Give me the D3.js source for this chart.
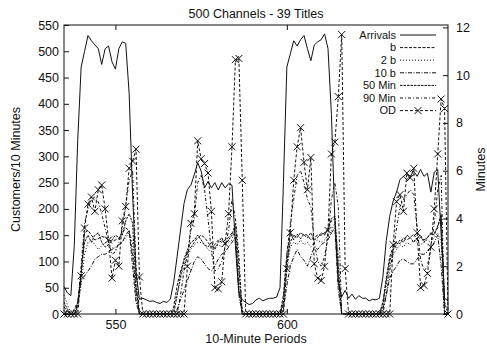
<!DOCTYPE html>
<html>
<head>
<meta charset="utf-8">
<script src="https://cdn.jsdelivr.net/npm/d3@7"></script>
<style>
  body { margin: 0; background: #fff; }
  text { font-family: "Liberation Sans", Arial, sans-serif; fill: #111; }
</style>
</head>
<body>
<div id="chart"></div>
<script>
// 10-minute periods shown on the x axis
const firstPeriod = 535, lastPeriod = 647;
const periods = d3.range(firstPeriod, lastPeriod + 1);

// Customers per 10 minutes (left axis)
const arrivals = [
  52, 40, 35, 130, 330, 470, 500, 530, 520, 512,
  505, 475, 505, 510, 480, 466, 505, 518, 515, 420,
  230, 80, 28, 30, 27, 24, 25, 22, 20, 24,
  22, 28, 60, 110, 160, 210, 237, 245, 265, 288,
  272, 240, 252, 240, 250, 236, 250, 240, 248, 245,
  130, 40, 27, 22, 18, 20, 27, 30, 25, 28,
  30, 30, 32, 50, 250, 470, 495, 520, 510, 522,
  530, 505, 482, 512, 518, 522, 533, 505, 380, 180,
  60, 33, 45, 30, 38, 28, 35, 30, 30, 25,
  28, 27, 30, 70, 140, 186, 215, 232, 256, 262,
  256, 262, 272, 262, 275, 262, 268, 232, 270, 275,
  150, 30, 25
];

// Minutes (right axis)
const b = [
  0.3, 0.1, 0, 0.2, 0.5, 1.6, 3.4, 3.5, 3.3, 3.1,
  3.15, 3.25, 3.2, 3.1, 3.05, 3.1, 3.15, 3.4, 3.6, 3.5,
  2.5, 1.0, 0, 0, 0, 0, 0, 0, 0, 0,
  0, 0, 0.3, 1.2, 1.8, 2.2, 2.6, 2.8, 3.0, 3.2,
  3.3, 3.2, 3.0, 2.8, 2.9, 3.1, 3.0, 3.1, 3.2, 3.4,
  3.3, 1.0, 0, 0, 0, 0, 0, 0, 0, 0,
  0, 0, 0, 0, 0.8, 2.5, 3.4, 3.1, 3.35, 3.15,
  3.35, 3.3, 3.1, 3.2, 3.3, 3.3, 3.4, 3.55, 3.9, 4.0,
  1.5, 0, 0, 0, 0, 0, 0, 0, 0, 0,
  0, 0, 0, 0.5, 1.5, 2.4, 2.8, 3.0, 2.95, 3.2,
  3.1, 3.2, 3.35, 3.1, 3.2, 3.1, 3.2, 3.35, 3.4, 3.6,
  4.2, 0, 0
];
const b2 = [
  0.8, 0.4, 0, 0, 0.3, 1.2, 2.5, 3.0, 3.1, 2.9,
  2.7, 2.85, 3.0, 2.9, 2.8, 2.7, 2.9, 3.0, 3.2, 3.4,
  3.0, 0.6, 0, 0, 0, 0, 0, 0, 0, 0,
  0, 0, 0.2, 0.8, 1.5, 2.0, 2.4, 2.7, 2.9, 3.0,
  3.0, 2.9, 2.7, 2.6, 2.8, 2.9, 2.8, 3.0, 3.0, 3.1,
  3.6, 1.5, 0, 0, 0, 0, 0, 0, 0, 0,
  0, 0, 0, 0, 0.4, 1.8, 2.8, 3.0, 2.9, 3.1,
  2.9, 3.0, 2.8, 3.0, 3.1, 3.0, 3.1, 3.3, 3.5, 3.8,
  2.5, 0, 0, 0, 0, 0, 0, 0, 0, 0,
  0, 0, 0, 0.3, 1.2, 2.0, 2.5, 2.7, 2.9, 2.8,
  3.0, 2.9, 3.1, 3.0, 2.9, 3.0, 3.1, 3.0, 3.2, 3.4,
  3.0, 0, 0
];
const b10 = [
  0, 0, 0, 0, 0.5, 1.4, 1.6, 1.8, 2.0, 2.3,
  2.4, 2.5, 2.5, 2.6, 2.7, 2.8, 2.9, 3.0, 3.3, 3.5,
  2.0, 0.5, 0, 0, 0, 0, 0, 0, 0, 0,
  0, 0, 0, 0.2, 0.6, 1.0, 1.4, 1.8, 2.2, 2.4,
  2.3, 2.1, 1.9, 1.8, 2.0, 2.3, 2.5, 2.6, 2.8, 3.0,
  3.2, 0.8, 0, 0, 0, 0, 0, 0, 0, 0,
  0, 0, 0, 0, 0.2, 1.2, 2.0, 2.4, 2.7, 2.4,
  2.25, 2.0, 2.4, 2.8, 2.7, 2.9, 3.0, 3.1, 3.4, 3.6,
  1.0, 0, 0, 0, 0, 0, 0, 0, 0, 0,
  0, 0, 0, 0.2, 0.8, 1.5, 1.8, 2.0, 2.25, 2.3,
  2.2, 2.1, 2.1, 2.3, 2.5, 2.5, 2.6, 2.8, 3.0, 3.3,
  2.0, 0, 0
];
const min50 = [
  0.5, 0.2, 0, 0, 0.3, 1.8, 3.0, 3.3, 3.0, 3.3,
  3.4, 3.0, 2.8, 2.9, 3.1, 3.3, 3.2, 3.3, 3.9, 4.2,
  3.8, 1.2, 0, 0, 0, 0, 0, 0, 0, 0,
  0, 0, 0, 0.8, 1.6, 2.3, 2.7, 3.0, 3.1, 3.3,
  3.1, 2.9, 2.8, 3.0, 2.7, 3.0, 3.2, 2.9, 3.1, 3.3,
  3.8, 2.0, 0, 0, 0, 0, 0, 0, 0, 0,
  0, 0, 0, 0, 0.5, 2.2, 3.0, 3.3, 3.2, 3.4,
  3.3, 3.2, 3.4, 3.1, 3.2, 3.4, 3.3, 3.6, 4.0, 4.1,
  2.0, 0, 0, 0, 0, 0, 0, 0, 0, 0,
  0, 0, 0, 0.4, 1.4, 2.2, 2.7, 2.9, 3.1, 3.0,
  3.3, 3.2, 3.0, 3.2, 3.3, 3.0, 3.2, 3.4, 3.3, 3.7,
  4.1, 0.5, 0
];
const min90 = [
  0, 0, 0, 0, 0.4, 2.0, 3.8, 4.4, 4.8, 4.9,
  4.7, 4.2, 3.6, 3.0, 2.5, 2.6, 3.0, 3.6, 4.5, 5.6,
  6.0, 2.0, 0, 0, 0, 0, 0, 0, 0, 0,
  0, 0, 0, 0, 0.8, 1.8, 2.5, 3.5, 4.0, 5.5,
  5.8, 5.2, 4.0, 2.6, 1.8, 1.9, 2.2, 2.8, 3.5, 4.8,
  4.0, 2.5, 0, 0, 0, 0, 0, 0, 0, 0,
  0, 0, 0, 0, 0.5, 2.5, 3.8, 4.8, 5.8, 6.0,
  5.5, 4.8, 4.5, 3.0, 2.2, 2.0, 2.4, 3.2, 4.8, 5.5,
  4.5, 0, 0, 0, 0, 0, 0, 0, 0, 0,
  0, 0, 0, 0, 0.8, 1.8, 2.6, 3.6, 4.5, 4.8,
  5.0, 5.2, 5.0, 3.6, 2.3, 1.8, 2.0, 2.8, 3.8, 5.2,
  5.8, 0, 0
];
const od = [
  0, 0, 0, 0, 0, 1.6, 3.6, 4.6, 4.9, 4.3,
  5.2, 5.4, 4.4, 3.1, 1.5, 2.25, 2.0, 3.9, 4.5, 6.1,
  6.4, 6.9, 1.55, 0, 0, 0, 0, 0, 0, 0,
  0, 0, 0, 0, 0, 0, 2.0, 3.8, 4.2, 7.25,
  6.5, 6.3, 5.9, 4.3, 1.1, 1.05, 1.35, 2.95, 4.2, 7.0,
  10.65, 10.7, 5.6, 0, 0, 0, 0, 0, 0, 0,
  0, 0, 0, 0, 0, 1.9, 3.4, 5.6, 7.0, 7.8,
  6.35, 5.2, 6.55, 2.1, 1.5, 1.4, 2.0, 3.5, 6.7, 7.2,
  9.1, 11.7, 1.9, 0, 0, 0, 0, 0, 0, 0,
  0, 0, 0, 0, 0, 0, 2.9, 4.7, 5.0, 4.3,
  5.9, 5.7, 6.1, 3.4, 1.1, 1.2, 1.7, 2.8, 4.4, 6.7,
  9.0, 8.6, 0
];

const xTicks = [550, 600];
const leftTicks = d3.range(0, 551, 50);
const rightTicks = [0, 2, 4, 6, 8, 10, 12];

const width = 487, height = 348;
const margin = {top: 25, right: 39, bottom: 34, left: 64};
const plotW = width - margin.left - margin.right;
const plotH = height - margin.top - margin.bottom;

const svg = d3.select("#chart")
    .append("svg")
    .attr("width", width)
    .attr("height", height)
    .style("font-size", "12.5px");

const g = svg.append("g")
    .attr("transform", `translate(${margin.left},${margin.top})`);

const x = d3.scaleLinear().domain([firstPeriod, lastPeriod]).range([0, plotW]);
const yL = d3.scaleLinear().domain([0, 550]).range([plotH, 0]);
const yR = d3.scaleLinear().domain([0, 12.1]).range([plotH, 0]);

g.append("clipPath").attr("id", "clip")
  .append("rect").attr("x", -1).attr("y", -1).attr("width", plotW + 2).attr("height", plotH + 2);

// axes (ticks point inwards, gnuplot style)
const styleAxis = sel => {
  sel.select(".domain").remove();
  sel.selectAll("line").attr("stroke", "#111");
  sel.selectAll("text").style("font-size", "12.5px").attr("fill", "#111");
};
g.append("g").call(d3.axisLeft(yL).tickValues(leftTicks).tickSize(-5).tickPadding(5)).call(styleAxis);
g.append("g").attr("transform", `translate(${plotW},0)`)
  .call(d3.axisRight(yR).tickValues(rightTicks).tickSize(-5).tickPadding(8)).call(styleAxis);
g.append("g").attr("transform", `translate(0,${plotH})`)
  .call(d3.axisBottom(x).tickValues(xTicks).tickSize(-5).tickPadding(6)).call(styleAxis);
g.append("g")
  .call(d3.axisTop(x).tickValues(xTicks).tickSize(-5).tickFormat("")).call(styleAxis);

g.append("rect")
  .attr("width", plotW).attr("height", plotH)
  .attr("fill", "none").attr("stroke", "#111").attr("stroke-width", 1);

// series
const series = [
  {name: "Arrivals", values: arrivals, scale: yL, dash: null},
  {name: "b", values: b, scale: yR, dash: "3,1.5"},
  {name: "2 b", values: b2, scale: yR, dash: "1,2"},
  {name: "10 b", values: b10, scale: yR, dash: "4,1.5,1,1.5"},
  {name: "50 Min", values: min50, scale: yR, dash: "2.5,1"},
  {name: "90 Min", values: min90, scale: yR, dash: "3,2,1,2"},
  {name: "OD", values: od, scale: yR, dash: "3,2", marker: true}
];

const plot = g.append("g").attr("clip-path", "url(#clip)");

series.forEach(s => {
  const line = d3.line()
      .x((d, i) => x(periods[i]))
      .y(d => s.scale(d));
  plot.append("path")
      .datum(s.values)
      .attr("fill", "none")
      .attr("stroke", "#111")
      .attr("stroke-width", 1)
      .attr("stroke-dasharray", s.dash)
      .attr("d", line);
});

// OD cross markers
const cross = r => `M${-r},${-r}L${r},${r}M${-r},${r}L${r},${-r}`;
g.append("g").selectAll("path")
  .data(od)
  .join("path")
    .attr("transform", (d, i) => `translate(${x(periods[i])},${yR(d)})`)
    .attr("d", cross(3.5))
    .attr("stroke", "#111")
    .attr("stroke-width", 1)
    .attr("fill", "none");

// legend
const legend = g.append("g").attr("transform", "translate(332,10)");
series.forEach((s, i) => {
  const row = legend.append("g").attr("transform", `translate(0,${i * 12.6})`);
  row.append("text")
      .attr("text-anchor", "end")
      .attr("dy", "0.35em")
      .style("font-size", "11px")
      .text(s.name);
  row.append("line")
      .attr("x1", 4).attr("x2", 40)
      .attr("stroke", "#111")
      .attr("stroke-dasharray", s.dash);
  if (s.marker) row.append("path").attr("transform", "translate(22,0)")
      .attr("d", cross(3.5)).attr("stroke", "#111").attr("fill", "none");
});

// titles
svg.append("text")
    .attr("x", margin.left + plotW / 2).attr("y", 18)
    .attr("text-anchor", "middle")
    .text("500 Channels - 39 Titles");

svg.append("text")
    .attr("x", margin.left + plotW / 2).attr("y", 343)
    .attr("text-anchor", "middle")
    .text("10-Minute Periods");

svg.append("text")
    .attr("transform", `translate(20,${margin.top + plotH / 2}) rotate(-90)`)
    .attr("text-anchor", "middle")
    .text("Customers/10 Minutes");

svg.append("text")
    .attr("transform", `translate(485,${margin.top + plotH / 2}) rotate(-90)`)
    .attr("text-anchor", "middle")
    .text("Minutes");
</script>
</body>
</html>
